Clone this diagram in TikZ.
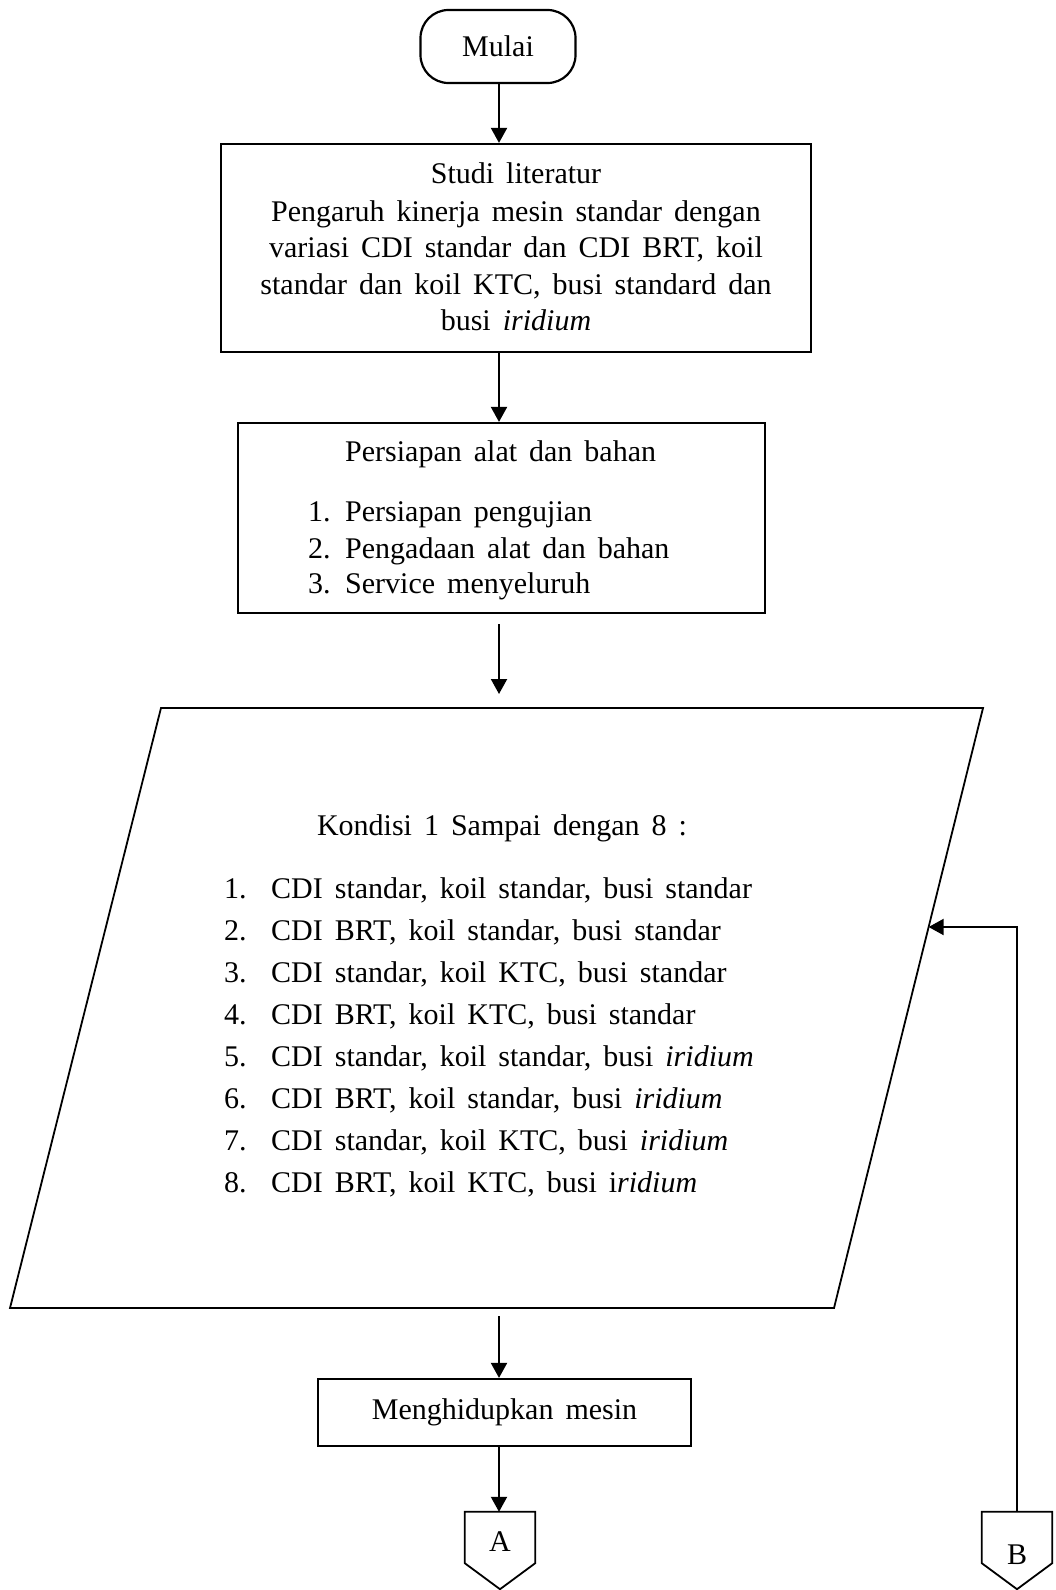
\documentclass[tikz,border=0pt]{standalone}
\usepackage{fontspec}
\setmainfont{Liberation Serif}[WordSpace=1.6]
\usetikzlibrary{arrows.meta,calc}

\begin{document}
\begin{tikzpicture}[x=1pt,y=-1pt,
  font=\fontsize{30}{36}\selectfont,
  box/.style={draw, rectangle, line width=2.2pt, inner sep=0pt},
  term/.style={box, rounded corners=28pt},
  txt/.style={inner sep=0pt, anchor=base},
  txtl/.style={inner sep=0pt, anchor=base west},
  arr/.style={line width=2pt, -{Triangle[length=15pt,width=16pt]}},
  link/.style={draw=none, rectangle, inner sep=0pt, minimum width=70pt, minimum height=64pt}
]
\useasboundingbox (0,0) rectangle (1056,1590);

% main axis of the flow
\coordinate (axis) at (499,0);

% start terminal
\node[term, minimum width=155pt, minimum height=73pt] (start) at (498,46.5) {Mulai};

% literature study
\node[box, minimum width=590pt, minimum height=208pt] (studi) at (516,248) {};
\node[txt] (s1) at (516,183) {Studi literatur};
\node[txt] (s2) at (516,221) {Pengaruh kinerja mesin standar dengan};
\node[txt] (s3) at (516,257.5) {variasi CDI standar dan CDI BRT, koil};
\node[txt] (s4) at (516,294) {standar dan koil KTC, busi standard dan};
\node[txt] (s5) at (516,330) {busi \textit{iridium}};

% preparation
\node[box, minimum width=527pt, minimum height=190pt] (prep) at (501.5,518) {};
\node[txtl] (p0) at (345,461) {Persiapan alat dan bahan};
\node[txtl] (pn1) at (308,521) {1.};
\node[txtl] (pt1) at (345,521) {Persiapan pengujian};
\node[txtl] (pn2) at (308,558) {2.};
\node[txtl] (pt2) at (345,558) {Pengadaan alat dan bahan};
\node[txtl] (pn3) at (308,593) {3.};
\node[txtl] (pt3) at (345,593) {Service menyeluruh};

% input / output: test conditions
\coordinate (q1) at (161,708);
\coordinate (q2) at (983,708);
\coordinate (q3) at (834,1308);
\coordinate (q4) at (10,1308);
\draw[line width=1.8pt] (q1) -- (q2) -- (q3) -- (q4) -- cycle;
\coordinate (qtop) at (axis |- q1);
\coordinate (qbot) at (axis |- q4);
\coordinate (qin) at ($(q2)!0.365!(q3)$);

\node[txt] (k0) at (502,835) {Kondisi 1 Sampai dengan 8 :};
\foreach \i/\t [evaluate=\i as \yy using 898+42*(\i-1)] in {%
  1/{CDI standar, koil standar, busi standar},
  2/{CDI BRT, koil standar, busi standar},
  3/{CDI standar, koil KTC, busi standar},
  4/{CDI BRT, koil KTC, busi standar},
  5/{CDI standar, koil standar, busi \textit{iridium}},
  6/{CDI BRT, koil standar, busi \textit{iridium}},
  7/{CDI standar, koil KTC, busi \textit{iridium}},
  8/{CDI BRT, koil KTC, busi i\textit{ridium}}}{
  \node[txtl] (kn\i) at (224,\yy) {\i.};
  \node[txtl] (kt\i) at (271,\yy) {\t};
}

% engine start
\node[box, minimum width=373pt, minimum height=67pt] (mesin) at (504.5,1412.5) {Menghidupkan mesin};

% off-page connectors
\node[link] (A) at (500,1544) {};
\node[link] (B) at (1017,1544) {};
\foreach \c in {A,B}{
  \draw[line width=1.8pt] ([yshift=13pt]\c.south west) -- (\c.north west) -- (\c.north east)
    -- ([yshift=13pt]\c.south east) -- ($(\c.south)+(0,13)$) -- cycle;
}
\node[txt] (Alab) at (500,1551) {A};
\node[txt] (Blab) at (1017,1564) {B};

% connectors
\draw[arr] (start.south -| axis) -- (studi.north -| axis);
\draw[arr] (studi.south -| axis) -- (prep.north -| axis);
\draw[arr, shorten <=10pt, shorten >=14pt] (prep.south -| axis) -- (qtop);
\draw[arr, shorten <=8pt] (qbot) -- (mesin.north -| axis);
\draw[arr] (mesin.south -| axis) -- (A.north -| axis);
\draw[arr] (B.north) |- (qin);
\end{tikzpicture}
\end{document}
